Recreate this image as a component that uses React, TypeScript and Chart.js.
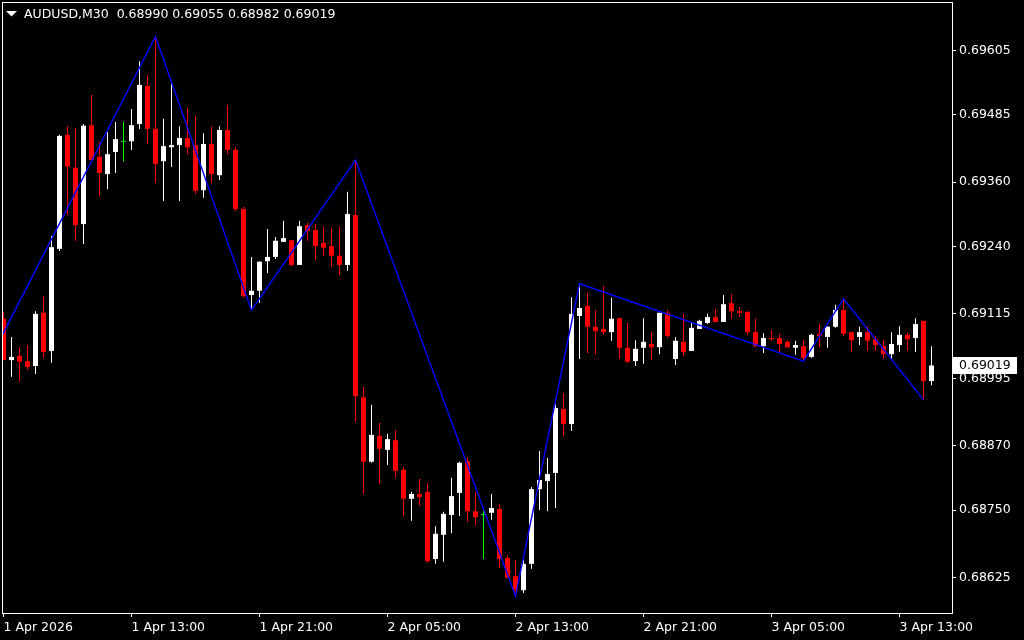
import React, { useEffect, useRef } from "react";
import { Chart, registerables } from "chart.js";

Chart.register(...registerables);

const symbolTitle = "AUDUSD,M30";

const opens = [
  0.69106, 0.69029, 0.69037, 0.69027, 0.69018, 0.69117, 0.69046, 0.69236, 0.69448, 0.69387,
  0.69282, 0.69466, 0.69407, 0.69375, 0.69416, 0.69435, 0.69436, 0.69468, 0.69539, 0.69459,
  0.69399, 0.69425, 0.69429, 0.69442, 0.69429, 0.69345, 0.69431, 0.69373, 0.69457, 0.69420,
  0.69310, 0.69150, 0.69158, 0.69213, 0.69221, 0.69249, 0.69252, 0.69206, 0.69280, 0.69271,
  0.69247, 0.69241, 0.69223, 0.69206, 0.69299, 0.68960, 0.68840, 0.68888, 0.68862, 0.68880,
  0.68825, 0.68771, 0.68780, 0.68784, 0.68659, 0.68704, 0.68741, 0.68782, 0.68841, 0.68748,
  0.68741, 0.68745, 0.68752, 0.68661, 0.68627, 0.68601, 0.68650, 0.68789, 0.68804, 0.68819,
  0.68938, 0.68910, 0.69111, 0.69130, 0.69091, 0.69087, 0.69081, 0.69107, 0.69052, 0.69027,
  0.69052, 0.69059, 0.69053, 0.69117, 0.69031, 0.69063, 0.69046, 0.69087, 0.69098, 0.69109,
  0.69100, 0.69135, 0.69120, 0.69119, 0.69081, 0.69055, 0.69070, 0.69070, 0.69063, 0.69052,
  0.69055, 0.69035, 0.69078, 0.69072, 0.69091, 0.69122, 0.69081, 0.69072, 0.69081, 0.69068,
  0.69055, 0.69040, 0.69057, 0.69076, 0.69070, 0.69102, 0.68990,
];
const highs = [
  0.69119, 0.69072, 0.69053, 0.69057, 0.69120, 0.69148, 0.69260, 0.69448, 0.69464, 0.69461,
  0.69468, 0.69522, 0.69435, 0.69453, 0.69472, 0.69472, 0.69496, 0.69585, 0.69559, 0.69631,
  0.69478, 0.69543, 0.69464, 0.69498, 0.69483, 0.69451, 0.69463, 0.69464, 0.69504, 0.69425,
  0.69314, 0.69221, 0.69213, 0.69273, 0.69258, 0.69288, 0.69252, 0.69288, 0.69284, 0.69282,
  0.69277, 0.69275, 0.69277, 0.69342, 0.69401, 0.68979, 0.68946, 0.68912, 0.68892, 0.68899,
  0.68830, 0.68784, 0.68808, 0.68800, 0.68720, 0.68747, 0.68810, 0.68840, 0.68849, 0.68784,
  0.68750, 0.68780, 0.68761, 0.68665, 0.68657, 0.68657, 0.68793, 0.68860, 0.68847, 0.68947,
  0.68968, 0.69146, 0.69171, 0.69154, 0.69122, 0.69167, 0.69145, 0.69107, 0.69098, 0.69066,
  0.69107, 0.69081, 0.69117, 0.69122, 0.69072, 0.69115, 0.69100, 0.69104, 0.69115, 0.69124,
  0.69150, 0.69152, 0.69128, 0.69119, 0.69106, 0.69079, 0.69085, 0.69078, 0.69066, 0.69065,
  0.69066, 0.69078, 0.69096, 0.69092, 0.69132, 0.69143, 0.69081, 0.69091, 0.69091, 0.69074,
  0.69066, 0.69081, 0.69092, 0.69081, 0.69107, 0.69102, 0.69055,
];
const lows = [
  0.69029, 0.68998, 0.68989, 0.69011, 0.69003, 0.69033, 0.69024, 0.69232, 0.69299, 0.69251,
  0.69245, 0.69396, 0.69334, 0.69347, 0.69377, 0.69399, 0.69420, 0.69459, 0.69431, 0.69358,
  0.69325, 0.69388, 0.69325, 0.69412, 0.69338, 0.69331, 0.69358, 0.69364, 0.69412, 0.69306,
  0.69145, 0.69122, 0.69135, 0.69191, 0.69217, 0.69249, 0.69204, 0.69206, 0.69251, 0.69215,
  0.69223, 0.69202, 0.69187, 0.69195, 0.68914, 0.68780, 0.68838, 0.68799, 0.68834, 0.68810,
  0.68739, 0.68730, 0.68758, 0.68652, 0.68650, 0.68654, 0.68707, 0.68739, 0.68728, 0.68722,
  0.68659, 0.68732, 0.68642, 0.68624, 0.68590, 0.68596, 0.68641, 0.68750, 0.68748, 0.68754,
  0.68888, 0.68897, 0.69031, 0.69042, 0.69039, 0.69076, 0.69065, 0.69031, 0.69024, 0.69018,
  0.69022, 0.69029, 0.69040, 0.69070, 0.69020, 0.69037, 0.69046, 0.69087, 0.69096, 0.69100,
  0.69100, 0.69106, 0.69109, 0.69076, 0.69053, 0.69042, 0.69065, 0.69044, 0.69052, 0.69039,
  0.69027, 0.69033, 0.69053, 0.69052, 0.69089, 0.69074, 0.69044, 0.69057, 0.69046, 0.69046,
  0.69031, 0.69031, 0.69044, 0.69046, 0.69044, 0.68955, 0.68982,
];
const closes = [
  0.69029, 0.69035, 0.69026, 0.69016, 0.69115, 0.69044, 0.69239, 0.69446, 0.69389, 0.69280,
  0.69465, 0.69401, 0.69377, 0.69412, 0.69440, 0.69435, 0.69466, 0.69541, 0.69459, 0.69394,
  0.69427, 0.69429, 0.69442, 0.69425, 0.69344, 0.69431, 0.69375, 0.69457, 0.69420, 0.69310,
  0.69148, 0.69158, 0.69212, 0.69221, 0.69251, 0.69256, 0.69206, 0.69278, 0.69269, 0.69241,
  0.69238, 0.69223, 0.69206, 0.69301, 0.68962, 0.68840, 0.68890, 0.68864, 0.68882, 0.68823,
  0.68771, 0.68780, 0.68774, 0.68655, 0.68706, 0.68743, 0.68776, 0.68838, 0.68748, 0.68737,
  0.68741, 0.68754, 0.68659, 0.68624, 0.68601, 0.68650, 0.68789, 0.68806, 0.68817, 0.68940,
  0.68910, 0.69115, 0.69126, 0.69091, 0.69083, 0.69081, 0.69106, 0.69052, 0.69026, 0.69050,
  0.69063, 0.69053, 0.69117, 0.69074, 0.69065, 0.69044, 0.69089, 0.69102, 0.69109, 0.69100,
  0.69133, 0.69120, 0.69117, 0.69081, 0.69055, 0.69070, 0.69068, 0.69059, 0.69053, 0.69057,
  0.69033, 0.69076, 0.69074, 0.69091, 0.69122, 0.69078, 0.69066, 0.69081, 0.69065, 0.69057,
  0.69040, 0.69059, 0.69076, 0.69068, 0.69096, 0.68990, 0.69019,
];

// ZigZag pivots (bar index, price)
const zigzagIndex = [-2, 19, 31, 44, 64, 72, 100, 105, 115];
const zigzagPrice = [0.69022, 0.69631, 0.69122, 0.69401, 0.6859, 0.69171, 0.69027, 0.69143, 0.68955];

// Axis ticks
const priceTicks = [0.68625, 0.6875, 0.6887, 0.68995, 0.69115, 0.6924, 0.6936, 0.69485, 0.69605];
const timeTickIndex = [0, 16, 32, 48, 64, 80, 96, 112];
const timeTickLabels = [
  "1 Apr 2026",
  "1 Apr 13:00",
  "1 Apr 21:00",
  "2 Apr 05:00",
  "2 Apr 13:00",
  "2 Apr 21:00",
  "3 Apr 05:00",
  "3 Apr 13:00",
];

const Y_MIN = 0.685586;
const Y_MAX = 0.696951;
const X_MIN = -0.1875;
const X_MAX = 118.5625;

const FONT = "DejaVu Sans";
const UP = "#ffffff";
const DOWN = "#ff0000";
const DOJI = "#00ff00";

function candleColor(i: number) {
  if (closes[i] > opens[i]) return UP;
  if (closes[i] < opens[i]) return DOWN;
  return DOJI;
}

const overlayPlugin = {
  id: "mtOverlay",
  afterDraw(chart: any) {
    const { ctx, chartArea } = chart;
    const ys = chart.scales.y;
    ctx.save();
    // frame
    ctx.strokeStyle = "#ffffff";
    ctx.lineWidth = 1;
    ctx.strokeRect(
      chartArea.left + 0.5,
      chartArea.top + 0.5,
      chartArea.right - chartArea.left,
      chartArea.bottom - chartArea.top
    );
    // title
    const n = closes.length - 1;
    ctx.fillStyle = "#ffffff";
    ctx.beginPath();
    ctx.moveTo(6, 11);
    ctx.lineTo(17, 11);
    ctx.lineTo(11.5, 16.5);
    ctx.closePath();
    ctx.fill();
    ctx.font = `12.5px ${FONT}`;
    ctx.textBaseline = "alphabetic";
    ctx.textAlign = "left";
    const title = `${symbolTitle}  ${opens[n].toFixed(5)} ${highs[n].toFixed(5)} ${lows[n].toFixed(5)} ${closes[n].toFixed(5)}`;
    ctx.fillText(title, 24, 18);
    // current price label
    const py = Math.round(ys.getPixelForValue(closes[n]));
    ctx.fillStyle = "#ffffff";
    ctx.fillRect(chartArea.right + 1, py - 8, 64, 17);
    ctx.fillStyle = "#000000";
    ctx.textBaseline = "middle";
    ctx.fillText(closes[n].toFixed(5), chartArea.right + 7, py + 0.5);
    ctx.restore();
  },
};

export default function App() {
  const ref = useRef<HTMLCanvasElement | null>(null);
  useEffect(() => {
    if (!ref.current) return;
    const idx = closes.map((_, i) => i);
    const bodies = idx.map((i) => ({ x: i, y: [opens[i], closes[i]] }));
    const wicks = idx.map((i) => ({ x: i, y: [lows[i], highs[i]] }));
    const colors = idx.map((i) => candleColor(i));
    const zigzag = zigzagIndex.map((x, k) => ({ x, y: zigzagPrice[k] }));

    const chart = new Chart(ref.current, {
      type: "bar",
      data: {
        datasets: [
          {
            type: "line",
            data: zigzag as any,
            borderColor: "#0000ff",
            borderWidth: 1.4,
            pointRadius: 0,
            tension: 0,
            order: 0,
          } as any,
          {
            type: "bar",
            data: bodies as any,
            backgroundColor: colors,
            borderWidth: 0,
            barThickness: 5,
            grouped: false,
            minBarLength: 1,
            inflateAmount: 0,
            order: 1,
          } as any,
          {
            type: "bar",
            data: wicks as any,
            backgroundColor: colors,
            borderWidth: 0,
            barThickness: 1,
            grouped: false,
            minBarLength: 1,
            inflateAmount: 0,
            order: 2,
          } as any,
        ],
      },
      options: {
        responsive: false,
        devicePixelRatio: 1,
        animation: false,
        layout: { padding: { left: 2, top: 2, right: 0, bottom: 0 } },
        plugins: { legend: { display: false }, tooltip: { enabled: false } },
        scales: {
          x: {
            type: "linear",
            min: X_MIN,
            max: X_MAX,
            offset: false,
            afterBuildTicks: (s: any) => {
              s.ticks = timeTickIndex.map((v) => ({ value: v }));
            },
            afterFit: (s: any) => {
              s.height = 27;
              s.paddingLeft = 0;
              s.paddingRight = 0;
            },
            grid: {
              offset: false,
              drawOnChartArea: false,
              drawTicks: true,
              tickLength: 4,
              color: "#ffffff",
            },
            border: { display: false },
            ticks: {
              color: "#ffffff",
              font: { family: FONT, size: 12.5 },
              padding: 3,
              align: "start",
              autoSkip: false,
              maxRotation: 0,
              minRotation: 0,
              callback: (_v: any, i: number) => timeTickLabels[i],
            },
          },
          y: {
            type: "linear",
            position: "right",
            min: Y_MIN,
            max: Y_MAX,
            afterBuildTicks: (s: any) => {
              s.ticks = priceTicks.map((v) => ({ value: v }));
            },
            afterFit: (s: any) => {
              s.width = 72;
              s.paddingTop = 0;
              s.paddingBottom = 0;
              s.paddingLeft = 0;
              s.paddingRight = 0;
            },
            grid: {
              drawOnChartArea: false,
              drawTicks: true,
              tickLength: 4,
              color: "#ffffff",
            },
            border: { display: false },
            ticks: {
              color: "#ffffff",
              font: { family: FONT, size: 12.5 },
              padding: 3,
              autoSkip: false,
              callback: (v: any) => Number(v).toFixed(5),
            },
          },
        },
      } as any,
      plugins: [overlayPlugin],
    });
    return () => chart.destroy();
  }, []);

  return (
    <div
      style={{
        position: "fixed",
        left: 0,
        top: 0,
        width: 1024,
        height: 640,
        background: "#000000",
      }}
    >
      <canvas ref={ref} width={1024} height={640} style={{ display: "block", width: 1024, height: 640 }} />
    </div>
  );
}
